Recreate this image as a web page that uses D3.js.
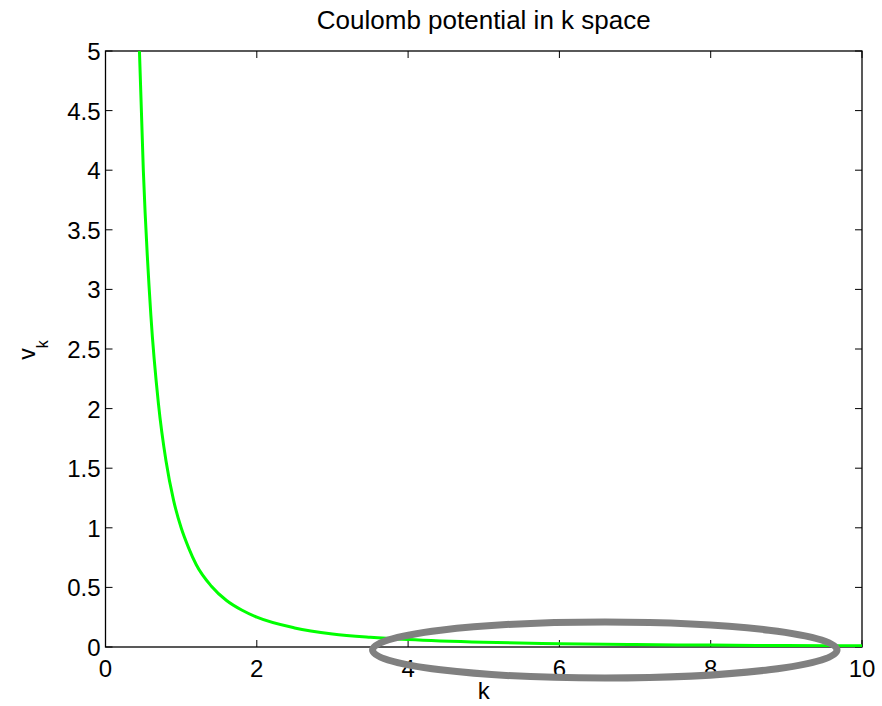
<!DOCTYPE html>
<html><head><meta charset="utf-8">
<script src="https://cdn.jsdelivr.net/npm/d3@7"></script>
<style>body{margin:0;background:#fff}svg{display:block}text{font-family:"Liberation Sans",Arial,Helvetica,sans-serif}</style>
</head><body>
<script>
const kValues = [0.44,0.5,0.6,0.7,0.8,0.9,1.0,1.1,1.2,1.4,1.6,1.8,2.0,2.5,3.0,3.5,4.0,5.0,6.0,7.0,8.0,9.0,10.0];
const vValues = [5.17,4.0,2.78,2.04,1.56,1.23,1.0,0.83,0.69,0.51,0.39,0.31,0.25,0.16,0.11,0.082,0.063,0.04,0.028,0.02,0.016,0.012,0.01];
const xTicks = [0,2,4,6,8,10];
const yTicks = [0,0.5,1,1.5,2,2.5,3,3.5,4,4.5,5];
const ellipseCenter = [6.6,-0.025];
const ellipseRadii = [3.07,0.235];
const title = "Coulomb potential in k space";

const W=882,H=706;
const m={l:105.5,r:20,t:51,b:59};
const svg=d3.select("body").append("svg").attr("width",W).attr("height",H);
const x=d3.scaleLinear().domain([0,10]).range([m.l,W-m.r]);
const y=d3.scaleLinear().domain([0,5]).range([H-m.b,m.t]);

svg.append("clipPath").attr("id","c").append("rect")
  .attr("x",x(0)).attr("y",y(5)).attr("width",x(10)-x(0)).attr("height",y(0)-y(5));

const tl=7;
const g=svg.append("g");
g.append("rect").attr("x",x(0)).attr("y",y(5)).attr("width",x(10)-x(0)).attr("height",y(0)-y(5))
 .attr("fill","none").attr("stroke","#000").attr("stroke-width",1.3);
xTicks.forEach(t=>{
  g.append("line").attr("x1",x(t)).attr("x2",x(t)).attr("y1",y(0)).attr("y2",y(0)-tl).attr("stroke","#000");
  g.append("line").attr("x1",x(t)).attr("x2",x(t)).attr("y1",y(5)).attr("y2",y(5)+tl).attr("stroke","#000");
  g.append("text").attr("x",x(t)).attr("y",y(0)+30).attr("text-anchor","middle").attr("font-size",24).text(String(t));
});
yTicks.forEach(t=>{
  g.append("line").attr("x1",x(0)).attr("x2",x(0)+tl).attr("y1",y(t)).attr("y2",y(t)).attr("stroke","#000");
  g.append("line").attr("x1",x(10)).attr("x2",x(10)-tl).attr("y1",y(t)).attr("y2",y(t)).attr("stroke","#000");
  g.append("text").attr("x",x(0)-5).attr("y",y(t)+9).attr("text-anchor","end").attr("font-size",24).text(String(t));
});

const line=d3.line().x((d,i)=>x(kValues[i])).y(d=>y(d)).curve(d3.curveMonotoneX);
svg.append("path").datum(vValues).attr("clip-path","url(#c)").attr("d",line)
  .attr("fill","none").attr("stroke","#00ff00").attr("stroke-width",3);

svg.append("ellipse").attr("cx",x(ellipseCenter[0])).attr("cy",y(ellipseCenter[1]))
  .attr("rx",x(ellipseRadii[0])-x(0)).attr("ry",y(0)-y(ellipseRadii[1]))
  .attr("fill","none").attr("stroke","#808080").attr("stroke-width",7);

svg.append("text").attr("x",(x(0)+x(10))/2).attr("y",29).attr("text-anchor","middle").attr("font-size",26).text(title);
svg.append("text").attr("x",(x(0)+x(10))/2).attr("y",699).attr("text-anchor","middle").attr("font-size",24).text("k");
const yl=svg.append("text").attr("transform","translate(35,350) rotate(-90)").attr("text-anchor","middle").attr("font-size",23);
yl.append("tspan").text("v");
yl.append("tspan").attr("font-size",16).attr("dy",13).text("k");
</script>
</body></html>
